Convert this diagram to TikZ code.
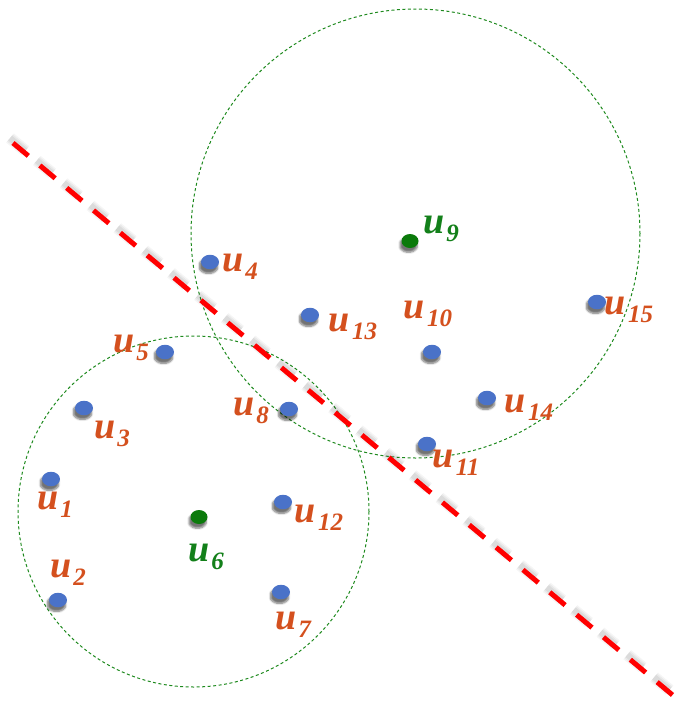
\documentclass[tikz,border=0pt]{standalone}
\usepackage{fontspec}
\setmainfont{Liberation Serif}
\usetikzlibrary{shapes.geometric,shadows.blur}
\definecolor{dotblue}{HTML}{4A72C8}
\definecolor{dotgreen}{HTML}{0B7A0B}
\definecolor{laborange}{HTML}{D4501E}
\definecolor{labgreen}{HTML}{13801A}
\definecolor{circgreen}{HTML}{1E8A1E}
\newcommand{\ulab}[1]{\fontsize{38}{38}\selectfont\bfseries\itshape u\kern2pt\raisebox{-8pt}{\fontsize{25}{25}\selectfont\itshape #1}}
\tikzset{
  dotbase/.style={ellipse, minimum width=18pt, minimum height=14.5pt, inner sep=0pt,
    blur shadow={shadow xshift=-1.5pt, shadow yshift=-4pt, shadow opacity=55, shadow blur steps=6, shadow blur extra rounding=2.5pt}},
  bdot/.style={dotbase, fill=dotblue},
  gdot/.style={dotbase, fill=dotgreen, minimum width=17pt, minimum height=14pt},
  olab/.style={text=laborange, inner sep=0pt},
  glab/.style={text=labgreen, inner sep=0pt},
  covercirc/.style={draw=circgreen, line width=1pt, dash pattern=on 3pt off 2.5pt},
  redline/.style={draw=red, line width=5pt, dash pattern=on 20pt off 15pt},
  redshadow/.style={draw=black, line width=#1, dash pattern=on 20pt off 15pt}
}
\begin{document}
\begin{tikzpicture}[x=1pt,y=-1pt]
\useasboundingbox (0,0) rectangle (677,710);
\clip (0,0) rectangle (677,710);
% coverage circles
\coordinate (c9) at (415.5,233.5);
\coordinate (c6) at (193.5,511.5);
\draw[covercirc] (c9) circle[radius=224.5];
\draw[covercirc] (c6) circle[radius=175.5];
% separating line with soft shadow
\coordinate (la) at (13,143);
\coordinate (lb) at (700,718);
\begin{scope}[transform canvas={shift={(-3pt,5pt)}}]
\draw[redshadow=12pt, opacity=0.04] (la) -- (lb);
\draw[redshadow=9pt, opacity=0.05] (la) -- (lb);
\draw[redshadow=6pt, opacity=0.06] (la) -- (lb);
\end{scope}
\draw[redline] (la) -- (lb);
% dots
\node[bdot] (u1) at (51,479) {};
\node[bdot] (u2) at (58,600) {};
\node[bdot] (u3) at (84,408) {};
\node[bdot] (u4) at (210,262) {};
\node[bdot] (u5) at (165,352) {};
\node[gdot] (u6) at (199,517) {};
\node[bdot] (u7) at (281,592) {};
\node[bdot] (u8) at (289,409) {};
\node[gdot] (u9) at (410,241) {};
\node[bdot] (u10) at (432,352) {};
\node[bdot] (u11) at (427,444) {};
\node[bdot] (u12) at (283,502) {};
\node[bdot] (u13) at (310,315) {};
\node[bdot] (u14) at (487,398) {};
\node[bdot] (u15) at (597,302) {};
% labels
\node[olab] (l1) at (55,505) {\ulab{1}};
\node[olab] (l2) at (68,573) {\ulab{2}};
\node[olab] (l3) at (112,434) {\ulab{3}};
\node[olab] (l4) at (240,267) {\ulab{4}};
\node[olab] (l5) at (131,348) {\ulab{5}};
\node[glab] (l6) at (206,557) {\ulab{6}};
\node[olab] (l7) at (293,625) {\ulab{7}};
\node[olab] (l8) at (251,411) {\ulab{8}};
\node[glab] (l9) at (441,229) {\ulab{9}};
\node[olab] (l10) at (428,314) {\ulab{10}};
\node[olab] (l11) at (456,463) {\ulab{11}};
\node[olab] (l12) at (319,518) {\ulab{12}};
\node[olab] (l13) at (353,327) {\ulab{13}};
\node[olab] (l14) at (529,408) {\ulab{14}};
\node[olab] (l15) at (629,310) {\ulab{15}};
\end{tikzpicture}
\end{document}
